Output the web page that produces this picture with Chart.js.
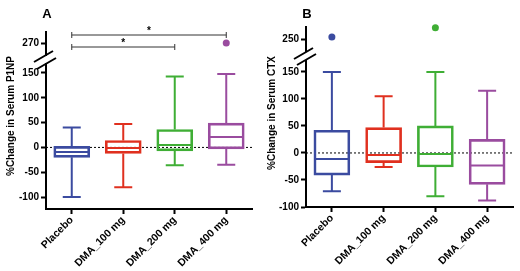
<!DOCTYPE html>
<html>
<head>
<meta charset="utf-8">
<script src="https://cdn.jsdelivr.net/npm/chart.js@4"></script>
<style>
  body { margin: 0; background: #fff; }
  .wrap { display: flex; width: 520px; height: 271px; }
  canvas { display: block; }
</style>
</head>
<body>
<div class="wrap">
  <canvas id="chartA" width="260" height="271"></canvas>
  <canvas id="chartB" width="260" height="271"></canvas>
</div>
<script>
// --- data ---
const groups = ['Placebo', 'DMA_100 mg', 'DMA_200 mg', 'DMA_400 mg'];
const groupColors = ['#3b4ba0', '#e0301f', '#3fae35', '#9a4c9f'];

// Panel A: % change in serum P1NP
const p1npMin = [-100, -80, -36, -35];
const p1npQ1 = [-20, -12, -7, -3];
const p1npMedian = [-9, -1, 5, 21];
const p1npQ3 = [2, 14, 36, 49];
const p1npMax = [40, 47, 143, 148];
const p1npOutliers = [null, null, null, 270];
const p1npTicks = [-100, -50, 0, 50, 100, 150];
const p1npBreakTicks = [270];
const p1npSignif = [[0, 3], [0, 2]]; // pairs marked with *

// Panel B: % change in serum CTX
const ctxMin = [-71, -26, -80, -88];
const ctxQ1 = [-41, -18, -26, -58];
const ctxMedian = [-11, -4, -2, -23];
const ctxQ3 = [42, 47, 50, 25];
const ctxMax = [150, 105, 150, 115];
const ctxOutliers = [256, null, 278, null];
const ctxTicks = [-100, -50, 0, 50, 100, 150];
const ctxBreakTicks = [250];

Chart.defaults.font.family = "'Liberation Sans', Arial, sans-serif";
Chart.defaults.color = '#000';

const FONT = "'Liberation Sans', Arial, sans-serif";

function axisStyle() {
    return {
        grid: { display: true, drawOnChartArea: false, tickLength: 5, tickWidth: 2, tickColor: '#000' },
        border: { display: true, color: '#000', width: 2 },
        ticks: { font: { size: 10, weight: 'bold' }, color: '#000', padding: 2 }
    };
}

function makePanel(canvasId, p) {
    // draws whiskers, medians, zero line, axis break, title and brackets
    const boxPlugin = {
        id: 'boxExtras',
        beforeDatasetsDraw(chart) {
            const ctx = chart.ctx;
            const area = chart.chartArea;
            const y0 = chart.scales.y.getPixelForValue(0);
            ctx.save();
            ctx.strokeStyle = '#000';
            ctx.lineWidth = 1;
            ctx.setLineDash([2, 2]);
            ctx.beginPath();
            ctx.moveTo(area.left, y0);
            ctx.lineTo(area.right, y0);
            ctx.stroke();
            ctx.restore();
        },
        afterDatasetsDraw(chart) {
            const ctx = chart.ctx;
            const xs = chart.scales.x;
            const ys = chart.scales.y;
            ctx.save();
            ctx.lineWidth = 2;
            groups.forEach((g, i) => {
                const x = xs.getPixelForValue(i);
                ctx.strokeStyle = groupColors[i];
                ctx.beginPath();
                // upper whisker + cap
                ctx.moveTo(x, ys.getPixelForValue(p.q3[i]));
                ctx.lineTo(x, ys.getPixelForValue(p.max[i]));
                ctx.moveTo(x - 9, ys.getPixelForValue(p.max[i]));
                ctx.lineTo(x + 9, ys.getPixelForValue(p.max[i]));
                // lower whisker + cap
                ctx.moveTo(x, ys.getPixelForValue(p.q1[i]));
                ctx.lineTo(x, ys.getPixelForValue(p.min[i]));
                ctx.moveTo(x - 9, ys.getPixelForValue(p.min[i]));
                ctx.lineTo(x + 9, ys.getPixelForValue(p.min[i]));
                // median
                ctx.moveTo(x - 17, ys.getPixelForValue(p.median[i]));
                ctx.lineTo(x + 17, ys.getPixelForValue(p.median[i]));
                ctx.stroke();
            });
            ctx.restore();
        },
        afterDraw(chart) {
            const ctx = chart.ctx;
            const ax = chart.chartArea.left;
            const br = p.breakMark;
            ctx.save();
            // gap in the axis
            ctx.fillStyle = '#fff';
            ctx.fillRect(ax - 3, br.gapTop, 6, br.gapBottom - br.gapTop);
            // the two slashes
            ctx.strokeStyle = '#000';
            ctx.lineWidth = 2;
            ctx.beginPath();
            ctx.moveTo(ax - 12, br.y1 + 5);
            ctx.lineTo(ax + 7, br.y1 - 6);
            ctx.moveTo(ax - 9, br.y2 + 5);
            ctx.lineTo(ax + 10, br.y2 - 6);
            ctx.stroke();

            // panel letter
            ctx.fillStyle = '#000';
            ctx.font = 'bold 13px ' + FONT;
            ctx.textAlign = 'center';
            ctx.textBaseline = 'middle';
            ctx.fillText(p.letter, ax + 1, 14);

            // y axis title
            ctx.save();
            ctx.translate(p.titleX, p.titleY);
            ctx.rotate(-Math.PI / 2);
            ctx.font = 'bold 10px ' + FONT;
            ctx.fillText(p.title, 0, 0);
            ctx.restore();

            // significance brackets
            const xs = chart.scales.x;
            ctx.strokeStyle = '#333';
            ctx.lineWidth = 1;
            (p.signif || []).forEach((pair, k) => {
                const xa = xs.getPixelForValue(pair[0]);
                const xb = xs.getPixelForValue(pair[1]);
                const y = 35 + k * 12;
                ctx.beginPath();
                ctx.moveTo(xa, y - 3); ctx.lineTo(xa, y + 3);
                ctx.moveTo(xa, y); ctx.lineTo(xb, y);
                ctx.moveTo(xb, y - 3); ctx.lineTo(xb, y + 3);
                ctx.stroke();
                ctx.font = 'bold 10px ' + FONT;
                ctx.fillText('*', (xa + xb) / 2, y - 4);
            });
            ctx.restore();
        }
    };

    const yMain = Object.assign(axisStyle(), {
        type: 'linear', position: 'left', stack: 'v', stackWeight: p.mainWeight,
        min: p.yMin, max: p.yMax,
        afterBuildTicks: s => { s.ticks = p.ticks.map(v => ({ value: v })); },
        afterFit: s => { s.width = 46; }
    });
    const yTop = Object.assign(axisStyle(), {
        type: 'linear', position: 'left', stack: 'v', stackWeight: p.topWeight,
        min: p.topMin, max: p.topMax,
        afterBuildTicks: s => { s.ticks = p.breakTicks.map(v => ({ value: v })); },
        afterFit: s => { s.width = 46; }
    });
    const xAxis = Object.assign(axisStyle(), {
        type: 'category', offset: true,
        afterFit: s => { s.height = p.xHeight; }
    });
    xAxis.grid.offset = false;
    xAxis.ticks = { font: { size: 10.5, weight: 'bold' }, color: '#000', maxRotation: 45, minRotation: 45, padding: 0 };

    return new Chart(document.getElementById(canvasId), {
        type: 'bar',
        data: {
            labels: groups,
            datasets: [{
                label: 'box',
                data: groups.map((g, i) => [p.q1[i], p.q3[i]]),
                backgroundColor: 'rgba(0,0,0,0)',
                borderColor: groupColors,
                borderWidth: 2,
                borderSkipped: false,
                barThickness: 36,
                yAxisID: 'y'
            }, {
                type: 'line',
                label: 'outliers',
                data: p.outliers,
                showLine: false,
                pointRadius: 3.5,
                pointBorderWidth: 0,
                pointBackgroundColor: groupColors,
                pointBorderColor: groupColors,
                clip: false,
                yAxisID: 'yTop'
            }]
        },
        options: {
            responsive: false,
            animation: false,
            layout: { padding: { top: p.padTop, right: p.padRight, left: 0, bottom: 0 } },
            plugins: { legend: { display: false }, tooltip: { enabled: false } },
            scales: { x: xAxis, y: yMain, yTop: yTop }
        },
        plugins: [boxPlugin]
    });
}

makePanel('chartA', {
    letter: 'A', title: '%Change in Serum P1NP', titleX: 11, titleY: 116,
    min: p1npMin, q1: p1npQ1, median: p1npMedian, q3: p1npQ3, max: p1npMax,
    outliers: p1npOutliers, ticks: p1npTicks, breakTicks: p1npBreakTicks,
    signif: p1npSignif,
    yMin: -124, yMax: 172, topMin: 235.5, topMax: 290,
    mainWeight: 147, topWeight: 30,
    padTop: 32, padRight: 8, xHeight: 62,
    breakMark: { gapTop: 56, gapBottom: 63, y1: 57, y2: 64 }
});

makePanel('chartB', {
    letter: 'B', title: '%Change in Serum CTX', titleX: 12, titleY: 113,
    min: ctxMin, q1: ctxQ1, median: ctxMedian, q3: ctxQ3, max: ctxMax,
    outliers: ctxOutliers, ticks: ctxTicks, breakTicks: ctxBreakTicks,
    signif: [],
    yMin: -100, yMax: 172, topMin: 200.8, topMax: 280,
    mainWeight: 147, topWeight: 33,
    padTop: 27, padRight: 7, xHeight: 64,
    breakMark: { gapTop: 52, gapBottom: 60, y1: 54, y2: 60 }
});
</script>
</body>
</html>
